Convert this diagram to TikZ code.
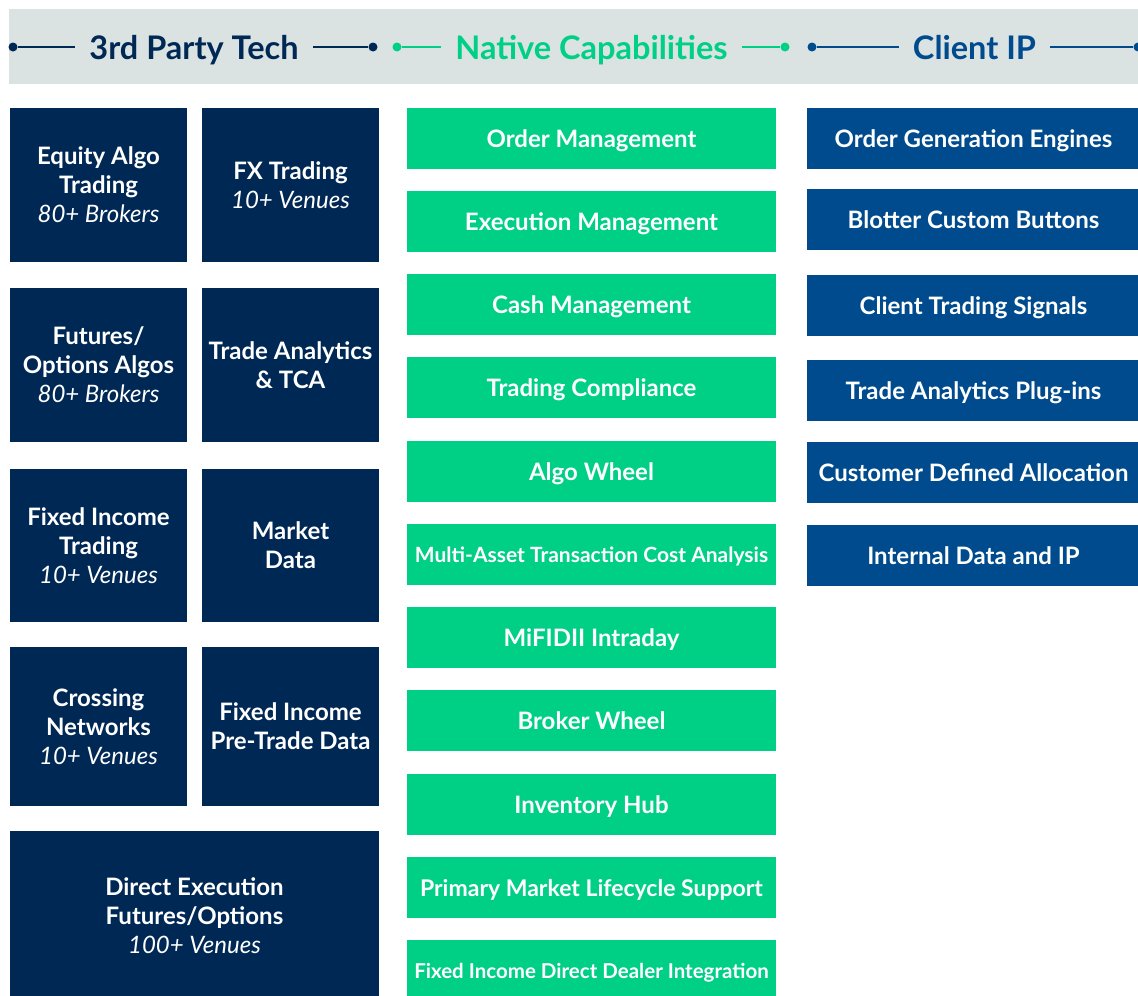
\documentclass[tikz,border=0pt]{standalone}
\usepackage{fontspec}
\setmainfont{Lato}
\usepackage{tikz}
\usetikzlibrary{positioning}
\definecolor{navy}{HTML}{002855}
\definecolor{mint}{HTML}{00CF86}
\definecolor{royal}{HTML}{004B8D}
\definecolor{mist}{HTML}{DAE2E2}
\pgfdeclarelayer{backlayer}
\pgfdeclarelayer{nodelayer}
\pgfdeclarelayer{edgelayer}
\pgfsetlayers{backlayer,edgelayer,nodelayer,main}
\tikzset{dot/.style={circle, fill=#1, inner sep=0pt, minimum size=9pt}}
\tikzset{heading/.style={text=#1, inner xsep=14pt, inner ysep=0pt, text height=24pt, text depth=0pt,
font=\bfseries\fontsize{32.5}{36}\selectfont}}
\tikzset{rule/.style={draw=#1, line width=2.8pt}}
\tikzset{tech/.style={fill=navy, text=white, inner sep=0pt, align=center, minimum width=177pt,
font=\bfseries\fontsize{24}{29}\selectfont}}
\tikzset{native/.style={fill=mint, text=white, inner sep=0pt, minimum width=369pt, minimum height=61pt,
text height=17pt, text depth=0pt, font=\bfseries\fontsize{24}{28}\selectfont}}
\tikzset{client/.style={fill=royal, text=white, inner sep=0pt, minimum width=333pt, minimum height=61pt,
text height=17pt, text depth=0pt, font=\bfseries\fontsize{24}{28}\selectfont}}
\newcommand{\sub}[1]{\\{\mdseries\itshape #1}}

\begin{document}
\begin{tikzpicture}[x=1pt, y=-1pt]
        \useasboundingbox (0, 0) rectangle (1138, 996);
        \begin{pgfonlayer}{backlayer}
            \fill [mist] (9, 9) rectangle (1140, 84);
        \end{pgfonlayer}
        \begin{pgfonlayer}{nodelayer}
            % header
            \node [style={dot=navy}] (0) at (13, 47) {};
            \node [style={heading=navy}] (1) at (194, 47) {3rd Party Tech};
            \node [style={dot=navy}] (2) at (373, 47) {};
            \node [style={dot=mint}] (3) at (397, 47) {};
            \node [style={heading=mint}] (4) at (591.5, 47) {Native Capabilities};
            \node [style={dot=mint}] (5) at (785, 47) {};
            \node [style={dot=royal}] (6) at (812, 47) {};
            \node [style={heading=royal}] (7) at (974.5, 47) {Client IP};
            \node [style={dot=royal}] (8) at (1138, 47) {};
            % 3rd party tech
            \node [style=tech, minimum height=154pt] (9) at (98.5, 185) {Equity Algo\\Trading\sub{80+ Brokers}};
            \node [style=tech, minimum height=154pt] (10) at (290.5, 185) {FX Trading\sub{10+ Venues}};
            \node [style=tech, minimum height=154pt] (11) at (98.5, 365) {Futures/\\Options Algos\sub{80+ Brokers}};
            \node [style=tech, minimum height=154pt] (12) at (290.5, 365) {Trade Analytics\\\& TCA};
            \node [style=tech, minimum height=153pt] (13) at (98.5, 545.5) {Fixed Income\\Trading\sub{10+ Venues}};
            \node [style=tech, minimum height=153pt] (14) at (290.5, 545.5) {Market\\Data};
            \node [style=tech, minimum height=159pt] (15) at (98.5, 726.5) {Crossing\\Networks\sub{10+ Venues}};
            \node [style=tech, minimum height=159pt] (16) at (290.5, 726.5) {Fixed Income\\Pre-Trade Data};
            \node [style=tech, minimum width=369pt, minimum height=170pt] (17) at (194.5, 916) {Direct Execution\\Futures/Options\sub{100+ Venues}};
            % native capabilities
            \node [style=native] (18) at (591.5, 138.5) {Order Management};
            \node [style=native] (19) at (591.5, 221.5) {Execution Management};
            \node [style=native] (20) at (591.5, 304.5) {Cash Management};
            \node [style=native] (21) at (591.5, 387.5) {Trading Compliance};
            \node [style=native] (22) at (591.5, 471.5) {Algo Wheel};
            \node [style=native, text height=15pt, font=\bfseries\fontsize{21}{26}\selectfont] (23) at (591.5, 554.5) {Multi-Asset Transaction Cost Analysis};
            \node [style=native] (24) at (591.5, 637.5) {MiFIDII Intraday};
            \node [style=native] (25) at (591.5, 720.5) {Broker Wheel};
            \node [style=native] (26) at (591.5, 804.5) {Inventory Hub};
            \node [style=native, font=\bfseries\fontsize{23}{27}\selectfont] (27) at (591.5, 887.5) {Primary Market Lifecycle Support};
            \node [style=native, text height=15pt, font=\bfseries\fontsize{20.5}{25}\selectfont] (28) at (591.5, 970.5) {Fixed Income Direct Dealer Integration};
            % client IP
            \node [style=client] (29) at (973.5, 138.5) {Order Generation Engines};
            \node [style=client] (30) at (973.5, 219.5) {Blotter Custom Buttons};
            \node [style=client] (31) at (973.5, 305.5) {Client Trading Signals};
            \node [style=client] (32) at (973.5, 390.5) {Trade Analytics Plug-ins};
            \node [style=client] (33) at (973.5, 472.5) {Customer Defined Allocation};
            \node [style=client] (34) at (973.5, 555.5) {Internal Data and IP};
        \end{pgfonlayer}
        \begin{pgfonlayer}{edgelayer}
            \draw [style={rule=navy}] (0) to (1);
            \draw [style={rule=navy}] (1) to (2);
            \draw [style={rule=mint}] (3) to (4);
            \draw [style={rule=mint}] (4) to (5);
            \draw [style={rule=royal}] (6) to (7);
            \draw [style={rule=royal}] (7) to (8);
        \end{pgfonlayer}
    \end{tikzpicture}
\end{document}
